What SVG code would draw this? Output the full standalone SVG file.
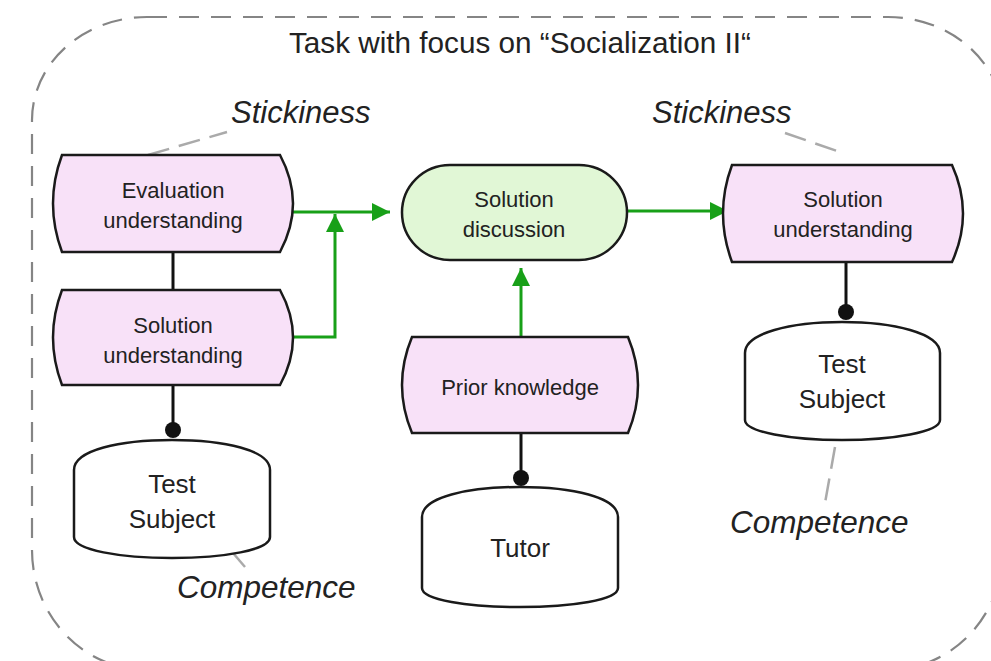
<svg xmlns="http://www.w3.org/2000/svg" width="991" height="661" viewBox="0 0 991 661">
<defs>
<style>
.frame{fill:none;stroke:#858585;stroke-width:2.2;stroke-dasharray:20 12}
.proc{fill:#f8e1f8;stroke:#1a1a1a;stroke-width:2.5}
.disc{fill:#e1f7d6;stroke:#1a1a1a;stroke-width:2.5}
.actor{fill:#ffffff;stroke:#1a1a1a;stroke-width:2.5}
.t{font-family:"Liberation Sans",Arial,sans-serif;fill:#222;text-anchor:middle}
.n{font-size:22px}
.c{font-size:26px}
.lab{font-family:"Liberation Sans",Arial,sans-serif;font-style:italic;font-size:31px;fill:#222}
.comp{font-size:31.5px}
.title{font-family:"Liberation Sans",Arial,sans-serif;font-size:29.7px;fill:#222;text-anchor:middle}
.green{fill:none;stroke:#18a018;stroke-width:3;marker-end:url(#ah)}
.black{fill:none;stroke:#111;stroke-width:3}
.dot{fill:#111}
.assoc{fill:none;stroke:#aaaaaa;stroke-width:2.5;stroke-dasharray:22 10}
</style>
<marker id="ah" viewBox="0 0 18 18" refX="18" refY="9" markerWidth="18" markerHeight="18" markerUnits="userSpaceOnUse" orient="auto">
<path d="M0,0 L18,9 L0,18 Z" fill="#18a018"/>
</marker>
</defs>
<rect width="991" height="661" fill="#ffffff"/>
<g id="frame">
<path class="frame" d="M147,17 H888 A115,103 0 0 1 1003,120 V550 A115,120 0 0 1 888,670 H147 A115,120 0 0 1 32,550 V120 A115,103 0 0 1 147,17 Z"/>
<text class="title" x="520" y="53">Task with focus on “Socialization II“</text>
</g>
<g id="connectors">
<path class="green" d="M293,212 H390"/>
<path class="green" d="M292,337 H335 V214"/>
<path class="green" d="M627,211 H728"/>
<path class="green" d="M521,337 V268"/>
<path class="black" d="M173,252 V290"/>
<path class="black" d="M173,385 V430"/>
<circle class="dot" cx="173" cy="430" r="8"/>
<path class="black" d="M521,433 V478"/>
<circle class="dot" cx="521" cy="478" r="8"/>
<path class="black" d="M846,262 V312"/>
<circle class="dot" cx="846" cy="312" r="8"/>
<path class="assoc" d="M148,155 L227,132"/>
<path class="assoc" d="M785,133 L840,152"/>
<path class="assoc" d="M233,553 L245,567"/>
<path class="assoc" d="M835,447 L825,503"/>
</g>
<g id="evaluation-understanding">
<path class="proc" d="M62,155 H280 Q306,203.5 280,252 H62 Q44,203.5 62,155 Z"/>
<text class="t n" x="173" y="198">Evaluation</text>
<text class="t n" x="173" y="228">understanding</text>
</g>
<g id="solution-understanding-left">
<path class="proc" d="M62,290 H280 Q306,337.5 280,385 H62 Q44,337.5 62,290 Z"/>
<text class="t n" x="173" y="333">Solution</text>
<text class="t n" x="173" y="363">understanding</text>
</g>
<g id="solution-discussion">
<rect class="disc" x="402" y="165" width="225" height="95" rx="48" ry="48"/>
<text class="t n" x="514" y="207">Solution</text>
<text class="t n" x="514" y="237">discussion</text>
</g>
<g id="prior-knowledge">
<path class="proc" d="M412,337 H628 Q648,385 628,433 H412 Q392,385 412,337 Z"/>
<text class="t n" x="520" y="395">Prior knowledge</text>
</g>
<g id="solution-understanding-right">
<path class="proc" d="M732,165 H952 Q974,213.5 952,262 H732 Q714,213.5 732,165 Z"/>
<text class="t n" x="843" y="207">Solution</text>
<text class="t n" x="843" y="237">understanding</text>
</g>
<g id="test-subject-left">
<path class="actor" d="M74,470 C74,450 120,440 172,440 C224,440 270,450 270,470 V537 C270,550 224,558 172,558 C120,558 74,550 74,537 Z"/>
<text class="t c" x="172" y="493">Test</text>
<text class="t c" x="172" y="528">Subject</text>
</g>
<g id="tutor">
<path class="actor" d="M422,517 C422,497 468,487 520,487 C572,487 618,497 618,517 V588 C618,600 572,607 520,607 C468,607 422,600 422,588 Z"/>
<text class="t c" x="520" y="557">Tutor</text>
</g>
<g id="test-subject-right">
<path class="actor" d="M745,353 C745,333 791,322 842,322 C893,322 940,333 940,353 V420 C940,432 893,440 842,440 C791,440 745,432 745,420 Z"/>
<text class="t c" x="842" y="373">Test</text>
<text class="t c" x="842" y="408">Subject</text>
</g>
<g id="labels">
<text class="lab" x="231" y="123">Stickiness</text>
<text class="lab" x="652" y="123">Stickiness</text>
<text class="lab comp" x="177" y="598">Competence</text>
<text class="lab comp" x="730" y="533">Competence</text>
</g>
</svg>
